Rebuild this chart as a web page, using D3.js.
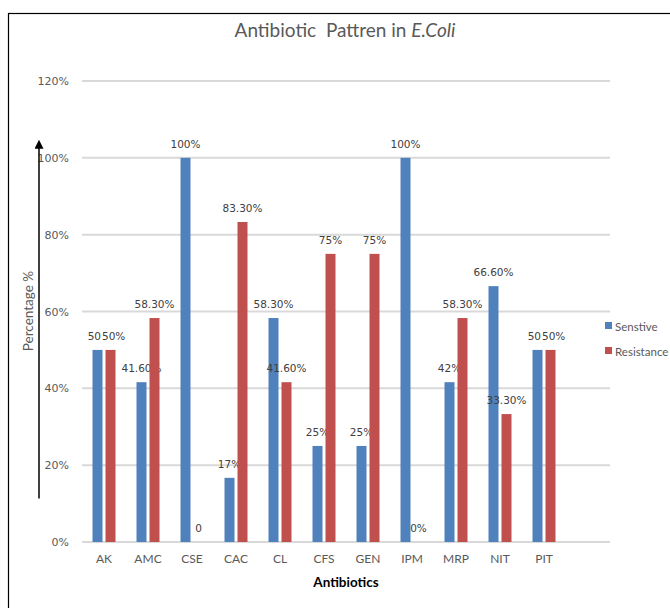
<!DOCTYPE html>
<html><head><meta charset="utf-8">
<script src="https://cdn.jsdelivr.net/npm/d3@7"></script>
<style>body{margin:0;background:#fff}svg{display:block}</style>
</head><body>
<svg id="c" width="670" height="608"></svg>
<script>
const categories = ["AK","AMC","CSE","CAC","CL","CFS","GEN","IPM","MRP","NIT","PIT"];
const sensitive = [50,41.6,100,16.7,58.3,25,25,100,41.6,66.6,50];
const resistance = [50,58.3,0,83.3,41.6,75,75,0,58.3,33.3,50];
const sensitiveLabels = ["50","41.60%","100%","17%","58.30%","25%","25%","100%","42%","66.60%","50"];
const resistanceLabels = ["50%","58.30%","0","83.30%","41.60%","75%","75%","0%","58.30%","33.30%","50%"];
const yTicks = [0,20,40,60,80,100,120];
const seriesNames = ["Senstive","Resistance"];
const colors = ["#4F81BD","#C0504D"];

(function(){
const svg = d3.select("#c");
svg.append("rect").attr("x",8.5).attr("y",13.5).attr("width",700).attr("height",620)
  .attr("fill","#fff").attr("stroke","#000").attr("stroke-width",1.2);

const pl=82, pr=610, pt=81, pb=542;
const x = d3.scaleBand().domain(categories.concat([""])).range([pl,pr]);
const y = d3.scaleLinear().domain([0,120]).range([pb,pt]);
const bw = 10, gap = 3;

svg.append("g").selectAll("line").data(yTicks).join("line")
  .attr("x1",pl).attr("x2",pr).attr("y1",d=>y(d)).attr("y2",d=>y(d))
  .attr("stroke","#D9D9D9").attr("stroke-width",2);

const yAxis = d3.axisLeft(y).tickValues(yTicks).tickFormat(d=>d+"%").tickSize(0).tickPadding(0);
const ya = svg.append("g").attr("transform",`translate(${pl-13},0)`).call(yAxis);
ya.select(".domain").remove();
ya.selectAll("text").attr("fill","#595959").style("font-family","DejaVu Sans").style("font-size","11px");

const xAxis = d3.axisBottom(x).tickValues(categories).tickSize(0).tickPadding(0);
const xa = svg.append("g").attr("transform",`translate(0,${pb+12})`).call(xAxis);
xa.select(".domain").remove();
xa.selectAll("text").attr("fill","#595959").style("font-family","Lato").style("font-size","12px");

const series = [sensitive, resistance];
const labels = [sensitiveLabels, resistanceLabels];
const texts = [];
series.forEach((vals,si)=>{
  const off = si===0 ? -gap/2-bw : gap/2;
  const g = svg.append("g");
  g.selectAll("rect").data(vals).join("rect")
    .attr("x",(d,i)=>x(categories[i])+x.bandwidth()/2+off)
    .attr("y",d=>y(d)).attr("width",bw).attr("height",d=>pb-y(d))
    .attr("fill",colors[si]);
  texts.push(g.selectAll("text").data(vals).join("text")
    .attr("x",(d,i)=>x(categories[i])+x.bandwidth()/2+off+bw/2)
    .attr("y",d=>y(d)-10)
    .attr("text-anchor","middle")
    .attr("fill","#404040").style("font-family","DejaVu Sans").style("font-size","10.5px")
    .text((d,i)=>labels[si][i]).nodes());
});
categories.forEach((c,i)=>{
  const a = texts[0][i], b = texts[1][i];
  const ba = a.getBBox(), bb = b.getBBox();
  const ov = (ba.x+ba.width) - bb.x;
  if (ov > 0 && Math.abs(ba.y-bb.y) < ba.height) {
    a.setAttribute("x", +a.getAttribute("x") - ov/2 - 0.5);
    b.setAttribute("x", +b.getAttribute("x") + ov/2 + 0.5);
  }
});

const t = svg.append("text").attr("x",345).attr("y",37).attr("text-anchor","middle")
  .attr("fill","#595959").style("font-family","Lato").style("font-size","19px");
t.append("tspan").text("Antibiotic\u00a0 Pattren in ");
t.append("tspan").attr("font-style","italic").text("E.Coli");

svg.append("text").attr("x",346).attr("y",587).attr("text-anchor","middle")
  .attr("fill","#000").style("font-family","Lato").style("font-weight","bold").style("font-size","13.5px")
  .text("Antibiotics");
svg.append("text").attr("transform","translate(33,311) rotate(-90)").attr("text-anchor","middle")
  .attr("fill","#595959").style("font-family","Lato").style("font-size","13.5px")
  .text("Percentage %");

svg.append("defs").append("marker").attr("id","ah").attr("viewBox","0 0 10 10")
  .attr("refX",5).attr("refY",5).attr("markerWidth",6).attr("markerHeight",6).attr("orient","auto")
  .append("path").attr("d","M0,0 L10,5 L0,10 z").attr("fill","#000");
svg.append("line").attr("x1",39).attr("x2",39).attr("y1",y(16)+18).attr("y2",y(103)-2)
  .attr("stroke","#000").attr("stroke-width",1.5).attr("marker-end","url(#ah)");

const lg = svg.append("g").attr("transform","translate(605,0)");
seriesNames.forEach((n,i)=>{
  const yy = 326 + i*25;
  lg.append("rect").attr("x",0).attr("y",yy-4).attr("width",7).attr("height",7).attr("fill",colors[i]);
  lg.append("text").attr("x",10).attr("y",yy+4.5).attr("fill","#595959")
    .style("font-family","Lato").style("font-size","11.5px").text(n);
});
})();
</script>
</body></html>
